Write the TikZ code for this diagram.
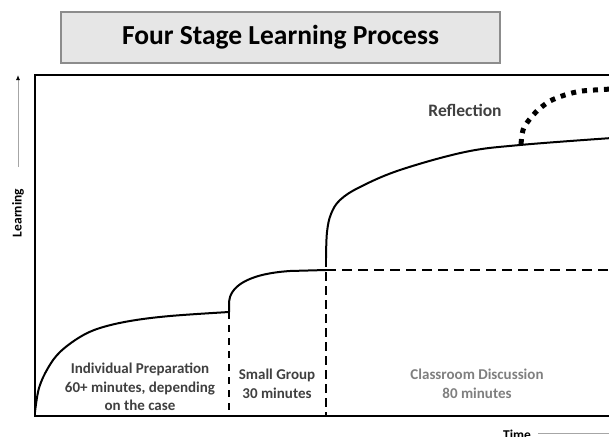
\documentclass[tikz,border=0pt]{standalone}
\usepackage{fontspec}
\setmainfont{Carlito}
\usepackage{tikz}
\usetikzlibrary{arrows.meta, positioning}
\definecolor{corTexto}{RGB}{64, 64, 64}
\definecolor{corClaro}{RGB}{127, 127, 127}
\definecolor{corCaixa}{RGB}{230, 230, 230}
\definecolor{corBorda}{RGB}{140, 140, 140}

\begin{document}
\begin{tikzpicture}[
    x=1pt, y=-1pt,
    titulo/.style={draw=corBorda, line width=1.5pt, fill=corCaixa, minimum width=439pt,
                minimum height=51pt, font=\bfseries\fontsize{27.5}{32}\selectfont},
    etapa/.style={align=center, text=corTexto, font=\bfseries\fontsize{15}{18.5}\selectfont},
    eixo/.style={font=\bfseries\fontsize{13.5}{15}\selectfont, inner sep=0pt},
    curva/.style={line width=2pt},
    divisao/.style={line width=1.5pt, dash pattern=on 7pt off 6pt}
]
\useasboundingbox (0,0) rectangle (609,436);

\node[titulo] (title) at (280.5,37.5) {Four Stage Learning Process};

% moldura do grafico
\draw[line width=2pt] (614,75) -- (35,75) -- (35,416) -- (614,416);

% eixos
\coordinate (yBase) at (18,167);
\coordinate (yTopo) at (18,75);
\draw[gray!70, line width=0.9pt, -{Latex[color=black, length=5pt, width=4pt]}] (yBase) -- (yTopo);
\node[eixo, rotate=90] (learning) at (18,213) {Learning};
\node[eixo, anchor=base] (time) at (517,439) {Time};
\coordinate (xFim) at (612,433);
\draw[gray!70, line width=0.9pt] ([xshift=7pt]time.east |- xFim) -- (xFim);

% fronteiras entre as etapas
\coordinate (s1) at (229,312);
\coordinate (b1) at (229,416);
\coordinate (s2) at (326,270);
\coordinate (s3) at (326,258);
\coordinate (b2) at (326,416);
\coordinate (fim) at (612,270);
\draw[divisao] (s1) -- (b1);
\draw[divisao, line width=2.5pt, dash pattern=on 9pt off 5pt] (s3) -- (b2);
\draw[divisao, line width=2pt, dash pattern=on 10pt off 6pt] (s2) -- (fim);

% curvas de aprendizagem
\draw[curva] plot[smooth, tension=0.6] coordinates {(35,412) (39,388) (48,368) (60,352)
    (80,337) (100,328) (130,321) (170,316) (229,312)};
\draw[curva] (s1) -- (229,302) .. controls (230,288) and (245,274) .. (290,271) -- (s2);
\draw[curva] plot[smooth, tension=0.6] coordinates {(326,258) (327,232) (331,214) (340,200)
    (360,187) (400,170) (465,152) (520,145) (612,138)};

% reflexao
\draw[line width=5pt, dash pattern=on 5pt off 6pt] plot[smooth] coordinates {(521,144) (523,130)
    (529,120) (538,110) (550,101) (565,95) (582,91) (612,89)};
\node[etapa, font=\bfseries\fontsize{17.5}{20}\selectfont] (reflexao) at (465,110) {Reflection};

% etapas
\node[etapa] (individual) at (140,387) {Individual Preparation\\60+ minutes, depending\\on the case};
\node[etapa] (grupo) at (277,384) {Small Group\\30 minutes};
\node[etapa, text=corClaro] (aula) at (477,384) {Classroom Discussion\\80 minutes};
\end{tikzpicture}
\end{document}
